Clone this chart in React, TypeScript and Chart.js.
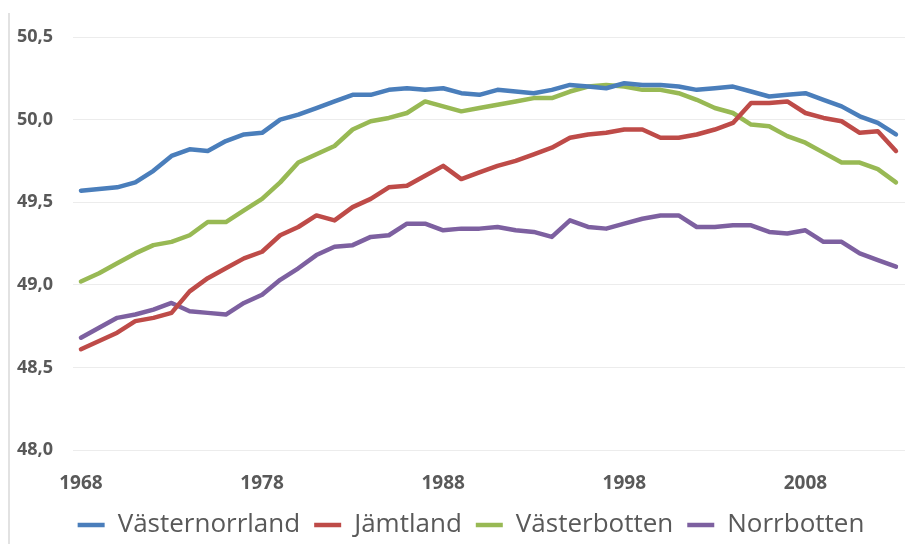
import React, { useEffect, useRef } from "react";
import { Chart, registerables } from "chart.js";

Chart.register(...registerables);

const YEARS = [
  1968, 1969, 1970, 1971, 1972, 1973, 1974, 1975, 1976, 1977,
  1978, 1979, 1980, 1981, 1982, 1983, 1984, 1985, 1986, 1987,
  1988, 1989, 1990, 1991, 1992, 1993, 1994, 1995, 1996, 1997,
  1998, 1999, 2000, 2001, 2002, 2003, 2004, 2005, 2006, 2007,
  2008, 2009, 2010, 2011, 2012, 2013,
];

const X_TICKS = [1968, 1978, 1988, 1998, 2008];
const Y_TICKS = [48.0, 48.5, 49.0, 49.5, 50.0, 50.5];

const VASTERNORRLAND = [
  49.57, 49.58, 49.59, 49.62, 49.69, 49.78, 49.82, 49.81, 49.87, 49.91,
  49.92, 50.0, 50.03, 50.07, 50.11, 50.15, 50.15, 50.18, 50.19, 50.18,
  50.19, 50.16, 50.15, 50.18, 50.17, 50.16, 50.18, 50.21, 50.2, 50.19,
  50.22, 50.21, 50.21, 50.2, 50.18, 50.19, 50.2, 50.17, 50.14, 50.15,
  50.16, 50.12, 50.08, 50.02, 49.98, 49.91,
];

const JAMTLAND = [
  48.61, 48.66, 48.71, 48.78, 48.8, 48.83, 48.96, 49.04, 49.1, 49.16,
  49.2, 49.3, 49.35, 49.42, 49.39, 49.47, 49.52, 49.59, 49.6, 49.66,
  49.72, 49.64, 49.68, 49.72, 49.75, 49.79, 49.83, 49.89, 49.91, 49.92,
  49.94, 49.94, 49.89, 49.89, 49.91, 49.94, 49.98, 50.1, 50.1, 50.11,
  50.04, 50.01, 49.99, 49.92, 49.93, 49.81,
];

const VASTERBOTTEN = [
  49.02, 49.07, 49.13, 49.19, 49.24, 49.26, 49.3, 49.38, 49.38, 49.45,
  49.52, 49.62, 49.74, 49.79, 49.84, 49.94, 49.99, 50.01, 50.04, 50.11,
  50.08, 50.05, 50.07, 50.09, 50.11, 50.13, 50.13, 50.17, 50.2, 50.21,
  50.2, 50.18, 50.18, 50.16, 50.12, 50.07, 50.04, 49.97, 49.96, 49.9,
  49.86, 49.8, 49.74, 49.74, 49.7, 49.62,
];

const NORRBOTTEN = [
  48.68, 48.74, 48.8, 48.82, 48.85, 48.89, 48.84, 48.83, 48.82, 48.89,
  48.94, 49.03, 49.1, 49.18, 49.23, 49.24, 49.29, 49.3, 49.37, 49.37,
  49.33, 49.34, 49.34, 49.35, 49.33, 49.32, 49.29, 49.39, 49.35, 49.34,
  49.37, 49.4, 49.42, 49.42, 49.35, 49.35, 49.36, 49.36, 49.32, 49.31,
  49.33, 49.26, 49.26, 49.19, 49.15, 49.11,
];

const SERIES = [
  { label: "Västernorrland", values: VASTERNORRLAND, color: "#4A7EBB" },
  { label: "Jämtland", values: JAMTLAND, color: "#BE4B48" },
  { label: "Västerbotten", values: VASTERBOTTEN, color: "#98B954" },
  { label: "Norrbotten", values: NORRBOTTEN, color: "#7D60A0" },
];

const FONT = "'Open Sans', 'DejaVu Sans', sans-serif";
const TEXT = "#595959";

const legendShift = {
  id: "legendShift",
  afterLayout(chart: any) {
    if (chart.legend) chart.legend.left += 20;
  },
};

export default function App() {
  const ref = useRef<HTMLCanvasElement | null>(null);

  useEffect(() => {
    if (!ref.current) return;
    const chart = new Chart(ref.current, {
      type: "line",
      data: {
        datasets: SERIES.map((s) => ({
          label: s.label,
          data: YEARS.map((x, i) => ({ x, y: s.values[i] })),
          borderColor: s.color,
          backgroundColor: s.color,
          borderWidth: 4.5,
          pointRadius: 0,
          tension: 0,
          borderCapStyle: "round",
          borderJoinStyle: "round",
          fill: false,
        })),
      },
      plugins: [legendShift],
      options: {
        animation: false,
        responsive: false,
        layout: { padding: { top: 37, left: 17, right: 14, bottom: -4 } },
        plugins: {
          tooltip: { enabled: false },
          legend: {
            position: "bottom",
            labels: {
              usePointStyle: true,
              pointStyle: "line",
              pointStyleWidth: 27,
              padding: 14,
              color: TEXT,
              font: { family: FONT, size: 26 },
            },
          },
        },
        scales: {
          x: {
            type: "linear",
            min: 1967.56,
            max: 2013.5,
            grid: { display: false },
            border: { display: false },
            afterBuildTicks: (axis: any) => {
              axis.ticks = X_TICKS.map((v) => ({ value: v }));
            },
            afterFit: (scale: any) => {
              scale.height = 48;
            },
            ticks: {
              autoSkip: false,
              maxRotation: 0,
              padding: 14,
              color: TEXT,
              font: { family: FONT, size: 19, weight: "bold" },
              callback: (v: any) => String(v),
            },
          },
          y: {
            min: 48,
            max: 50.5,
            afterBuildTicks: (axis: any) => {
              axis.ticks = Y_TICKS.map((v) => ({ value: v }));
            },
            afterFit: (scale: any) => {
              scale.width = 56;
            },
            grid: { color: "#ececec", lineWidth: 1, drawTicks: false },
            border: { display: false },
            ticks: {
              padding: 20,
              color: TEXT,
              font: { family: FONT, size: 18, weight: "bold" },
              callback: (v: any) => Number(v).toFixed(1).replace(".", ","),
            },
          },
        },
      },
    });
    return () => chart.destroy();
  }, []);

  return (
    <div
      style={{
        position: "fixed",
        left: 0,
        top: 0,
        width: 919,
        height: 544,
        background: "#ffffff",
        overflow: "hidden",
      }}
    >
      <div
        style={{
          position: "absolute",
          left: 8,
          top: 13,
          width: 0,
          height: 540,
          borderLeft: "2px solid #e2e2e2",
        }}
      />
      <canvas
        ref={ref}
        width={919}
        height={544}
        style={{ position: "absolute", left: 0, top: 0, width: 919, height: 544 }}
      />
    </div>
  );
}
